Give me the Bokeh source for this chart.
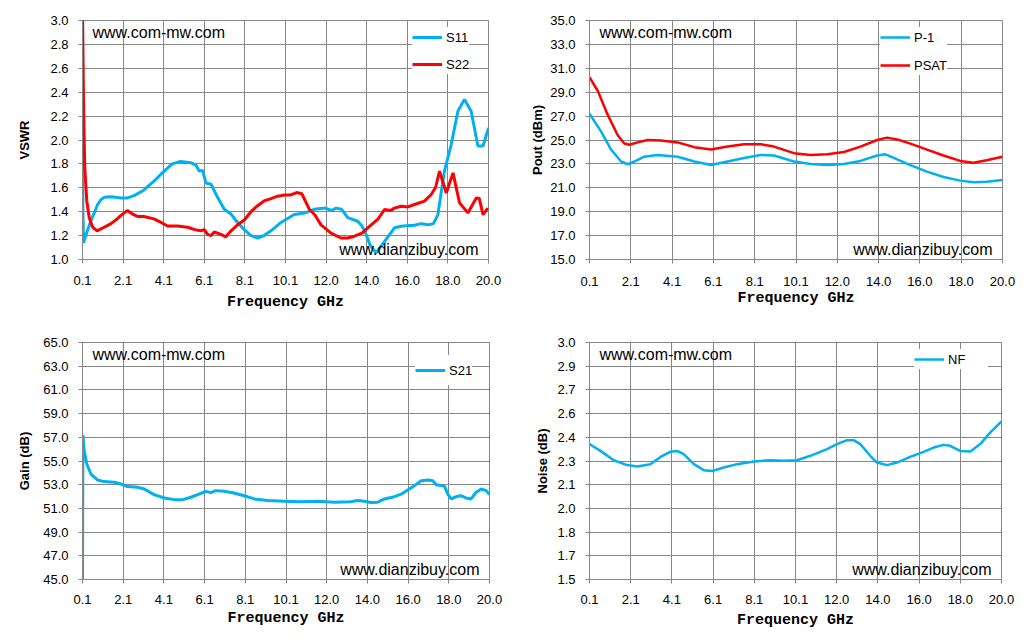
from bokeh.plotting import figure
from bokeh.models import Range1d, FixedTicker, Label, Legend, LegendItem
from bokeh.layouts import column, row
from bokeh.embed import file_html
from bokeh.resources import INLINE

# ---------------- data ----------------
x_ticks = [0.1, 2.09, 4.08, 6.07, 8.06, 10.05, 12.04, 14.03, 16.02, 18.01, 20.0]
x_labels = ["0.1", "2.1", "4.1", "6.1", "8.1", "10.1", "12.0", "14.0", "16.0", "18.0", "20.0"]

vswr_ticks = [1.0, 1.2, 1.4, 1.6, 1.8, 2.0, 2.2, 2.4, 2.6, 2.8, 3.0]
pout_ticks = [15, 17, 19, 21, 23, 25, 27, 29, 31, 33, 35]
gain_ticks = [45, 47, 49, 51, 53, 55, 57, 59, 61, 63, 65]
noise_ticks = [1.5, 1.65, 1.8, 1.95, 2.1, 2.25, 2.4, 2.55, 2.7, 2.85, 3.0]
noise_labels = ["1.5", "1.7", "1.8", "2.0", "2.1", "2.3", "2.4", "2.6", "2.7", "2.9", "3.0"]

s11_f = [0.1, 0.12, 0.15, 0.3, 0.5, 0.7, 0.84, 1.0, 1.16, 1.5,
         1.98, 2.3, 2.63, 3.1, 3.6, 4.1, 4.5, 4.9, 5.4, 5.66,
         5.82, 5.99, 6.15, 6.4, 6.72, 7.05, 7.38, 7.7, 8.03, 8.36,
         8.68, 9.0, 9.34, 9.83, 10.48, 11.0, 11.46, 12.0, 12.3, 12.53,
         12.8, 13.1, 13.59, 13.8, 14.0, 14.2, 14.49, 14.9, 15.39, 15.8,
         16.37, 16.7, 17.03, 17.3, 17.52, 17.84, 18.17, 18.5, 18.82, 19.15,
         19.48, 19.73, 20.0]
s11_v = [2.10, 1.40, 1.14, 1.22, 1.32, 1.40, 1.46, 1.50, 1.52, 1.525,
         1.515, 1.515, 1.535, 1.58, 1.655, 1.74, 1.80, 1.82, 1.81, 1.79,
         1.74, 1.745, 1.64, 1.63, 1.52, 1.42, 1.38, 1.31, 1.25, 1.20,
         1.18, 1.20, 1.24, 1.31, 1.376, 1.39, 1.42, 1.43, 1.41, 1.43,
         1.42, 1.35, 1.32, 1.28, 1.21, 1.12, 1.055, 1.15, 1.265, 1.28,
         1.287, 1.30, 1.29, 1.30, 1.376, 1.74, 1.96, 2.24, 2.34, 2.24,
         1.95, 1.95, 2.10]

s22_f = [0.1, 0.15, 0.21, 0.31, 0.43, 0.6, 0.82, 1.16, 1.5, 1.8,
         2.06, 2.3, 2.55, 2.8, 3.1, 3.6, 3.95, 4.27, 4.76, 5.25,
         5.6, 5.9, 6.07, 6.23, 6.4, 6.56, 6.88, 7.13, 7.38, 7.7,
         8.03, 8.36, 8.68, 9.0, 9.34, 9.67, 10.0, 10.3, 10.6, 10.85,
         11.22, 11.5, 11.79, 12.28, 12.77, 13.1, 13.43, 13.8, 14.08, 14.57,
         14.9, 15.2, 15.39, 15.72, 16.05, 16.37, 16.86, 17.19, 17.4, 17.6,
         17.93, 18.26, 18.58, 18.99, 19.4, 19.55, 19.73, 19.97]
s22_v = [3.1, 2.32, 1.77, 1.49, 1.35, 1.27, 1.24, 1.27, 1.30, 1.34,
         1.38, 1.41, 1.38, 1.36, 1.36, 1.34, 1.31, 1.28, 1.28, 1.27,
         1.25, 1.24, 1.25, 1.21, 1.20, 1.23, 1.21, 1.19, 1.24, 1.29,
         1.33, 1.40, 1.45, 1.49, 1.51, 1.53, 1.54, 1.54, 1.56, 1.55,
         1.42, 1.37, 1.29, 1.22, 1.18, 1.18, 1.195, 1.22, 1.265, 1.335,
         1.418, 1.41, 1.43, 1.445, 1.44, 1.46, 1.488, 1.544, 1.6, 1.74,
         1.557, 1.725, 1.474, 1.39, 1.515, 1.51, 1.376, 1.43]

p1_f = [0.1, 0.66, 1.14, 1.62, 1.94, 2.26, 2.74, 3.38, 4.35, 5.15,
        5.95, 6.75, 7.55, 8.35, 8.99, 9.95, 10.75, 11.56, 12.36, 13.16,
        13.96, 14.36, 14.76, 15.56, 16.36, 17.16, 17.96, 18.6, 19.24, 20.0]
p1_v = [27.2, 25.7, 24.2, 23.2, 22.97, 23.2, 23.6, 23.75, 23.6, 23.2,
        22.9, 23.2, 23.5, 23.75, 23.7, 23.2, 23.0, 22.9, 23.0, 23.25,
        23.7, 23.8, 23.5, 22.9, 22.35, 21.9, 21.6, 21.46, 21.5, 21.66]

psat_f = [0.1, 0.5, 0.98, 1.46, 1.78, 2.02, 2.42, 2.9, 3.54, 4.35,
          5.15, 5.95, 6.75, 7.55, 8.35, 8.99, 9.95, 10.75, 11.56, 12.36,
          13.16, 13.96, 14.44, 14.92, 15.56, 16.36, 17.16, 17.96, 18.6, 19.24,
          20.0]
psat_v = [30.25, 29.1, 27.1, 25.4, 24.7, 24.6, 24.8, 25.0, 24.96, 24.8,
          24.4, 24.2, 24.45, 24.65, 24.65, 24.45, 23.9, 23.75, 23.8, 24.0,
          24.45, 25.0, 25.2, 25.05, 24.7, 24.2, 23.7, 23.25, 23.1, 23.3,
          23.6]

s21_f = [0.1, 0.12, 0.18, 0.31, 0.51, 0.83, 1.16, 1.65, 1.98, 2.3,
         2.79, 3.12, 3.6, 4.1, 4.59, 5.0, 5.4, 5.89, 6.13, 6.38,
         6.62, 7.03, 7.5, 8.0, 8.5, 9.15, 9.97, 10.78, 11.6, 12.4,
         13.2, 13.56, 13.88, 14.2, 14.53, 14.86, 15.35, 15.68, 16.0, 16.33,
         16.66, 16.98, 17.23, 17.4, 17.64, 17.8, 17.96, 18.12, 18.37, 18.6,
         18.85, 19.1, 19.35, 19.6, 19.84, 20.0]
s21_v = [45.0, 57.2, 55.9, 54.75, 53.9, 53.4, 53.26, 53.2, 53.06, 52.84,
         52.78, 52.64, 52.16, 51.88, 51.74, 51.74, 51.94, 52.27, 52.44, 52.33,
         52.5, 52.44, 52.3, 52.07, 51.8, 51.66, 51.6, 51.57, 51.6, 51.52,
         51.57, 51.66, 51.6, 51.49, 51.52, 51.8, 51.99, 52.2, 52.55, 52.92,
         53.34, 53.4, 53.34, 53.0, 52.92, 52.87, 52.2, 51.8, 51.99, 52.07,
         51.88, 51.8, 52.36, 52.64, 52.5, 52.16]

nf_f = [0.1, 0.63, 1.27, 1.92, 2.4, 3.04, 3.53, 4.0, 4.33, 4.65,
        5.14, 5.62, 6.02, 6.58, 7.23, 8.03, 8.84, 9.48, 10.12, 10.77,
        11.57, 12.05, 12.54, 12.86, 13.18, 13.66, 13.98, 14.47, 14.95, 15.59,
        16.24, 16.72, 17.2, 17.52, 18.0, 18.5, 18.97, 19.45, 20.0]
nf_v = [2.357, 2.314, 2.255, 2.224, 2.215, 2.23, 2.276, 2.308, 2.314, 2.293,
        2.23, 2.192, 2.186, 2.209, 2.23, 2.247, 2.255, 2.251, 2.255, 2.283,
        2.325, 2.357, 2.382, 2.382, 2.357, 2.283, 2.24, 2.224, 2.24, 2.276,
        2.308, 2.335, 2.352, 2.346, 2.314, 2.31, 2.357, 2.43, 2.5]

BLUE = "#00B0F0"
RED = "#FF0000"
GRID = "#868686"
SANS = "Liberation Sans"
MONO = "Liberation Mono, DejaVu Sans Mono, monospace"


def make_fig(w, h, bl, br, bt, bb, yr, yticks, ylabel, ylab_standoff,
             xlab_standoff, xtick_standoff, ylabel_overrides=None):
    p = figure(width=w, height=h, min_border_left=bl,
               min_border_right=br, min_border_top=bt, min_border_bottom=bb,
               x_range=Range1d(0.1, 20.0), y_range=Range1d(*yr),
               output_backend="svg", toolbar_location=None,
               border_fill_color="white")
    p.background_fill_color = None
    p.outline_line_color = GRID
    p.outline_line_width = 1
    p.xaxis.ticker = FixedTicker(ticks=x_ticks)
    p.xaxis.major_label_overrides = {t: l for t, l in zip(x_ticks, x_labels)}
    p.yaxis.ticker = FixedTicker(ticks=yticks)
    if ylabel_overrides:
        p.yaxis.major_label_overrides = {t: l for t, l in zip(yticks, ylabel_overrides)}
    else:
        p.yaxis.major_label_overrides = {t: f"{t:.1f}" for t in yticks}
    for ax in (p.xaxis, p.yaxis):
        ax.axis_line_color = GRID
        ax.major_tick_line_color = GRID
        ax.major_tick_in = 0
        ax.major_tick_out = 4
        ax.minor_tick_line_color = None
        ax.major_label_text_font = SANS
        ax.major_label_text_font_size = "13px"
        ax.major_label_text_color = "black"
    p.xaxis.major_label_standoff = xtick_standoff
    p.yaxis.major_label_standoff = 10
    p.xaxis.axis_label = "Frequency GHz"
    p.xaxis.axis_label_text_font = MONO
    p.xaxis.axis_label_text_font_style = "bold"
    p.xaxis.axis_label_text_font_size = "15px"
    p.xaxis.axis_label_text_color = "black"
    p.xaxis.axis_label_standoff = xlab_standoff
    p.yaxis.axis_label = ylabel
    p.yaxis.axis_label_text_font = SANS
    p.yaxis.axis_label_text_font_style = "bold"
    p.yaxis.axis_label_text_font_size = "13px"
    p.yaxis.axis_label_text_color = "black"
    p.yaxis.axis_label_standoff = ylab_standoff
    p.grid.grid_line_color = GRID
    p.grid.grid_line_width = 1
    p.grid.grid_line_alpha = 1.0
    # watermarks
    p.add_layout(Label(x=0.1, y=yr[1], x_offset=10, y_offset=-12,
                       text="www.com-mw.com", text_font=SANS,
                       text_font_size="16px", text_color="black",
                       text_baseline="middle", text_align="left"))
    p.add_layout(Label(x=20.0, y=yr[0], x_offset=-10, y_offset=10,
                       text="www.dianzibuy.com", text_font=SANS,
                       text_font_size="16px", text_color="black",
                       text_baseline="middle", text_align="right"))
    return p


def add_legend(p, items, loc, padding, spacing, lh=20, lw=20):
    leg = Legend(items=items, location=loc, padding=padding, spacing=spacing,
                 margin=0, glyph_width=30, glyph_height=lh, label_height=lh,
                 label_width=lw, label_standoff=4,
                 label_text_font=SANS, label_text_font_size="13px",
                 label_text_color="black", border_line_color=None,
                 background_fill_color="white", background_fill_alpha=1.0)
    p.add_layout(leg)


# ---- VSWR ----  frame 406 x 239
p1 = make_fig(505, 324, 82, 17, 20, 65, (1.0, 3.0), vswr_ticks, "VSWR", 15,
              xlab_standoff=6, xtick_standoff=12)
r1 = p1.line(s11_f, s11_v, line_color=BLUE, line_width=3)
r2 = p1.line(s22_f, s22_v, line_color=RED, line_width=3)
add_legend(p1, [LegendItem(label="S11", renderers=[r1]),
                LegendItem(label="S22", renderers=[r2])], (330, 185), 7, 7)

# ---- Pout ----  frame 413 x 239
p2 = make_fig(518, 324, 84, 21, 20, 65, (15.0, 35.0), pout_ticks, "Pout (dBm)", 2,
              xlab_standoff=1, xtick_standoff=13)
r3 = p2.line(p1_f, p1_v, line_color=BLUE, line_width=2.5)
r4 = p2.line(psat_f, psat_v, line_color=RED, line_width=2.5)
add_legend(p2, [LegendItem(label="P-1", renderers=[r3]),
                LegendItem(label="PSAT", renderers=[r4])], (291, 184), 5, 8)

# ---- Gain ----  frame 407 x 237
p3 = make_fig(505, 317, 82, 16, 18, 62, (45.0, 65.0), gain_ticks, "Gain (dB)", 8,
              xlab_standoff=3, xtick_standoff=11)
r5 = p3.line(s21_f, s21_v, line_color=BLUE, line_width=3)
add_legend(p3, [LegendItem(label="S21", renderers=[r5])], (333, 194), 8, 0, lh=30)

# ---- Noise ----  frame 412 x 237
p4 = make_fig(518, 317, 84, 22, 18, 62, (1.5, 3.0), noise_ticks, "Noise (dB)", 4,
              xlab_standoff=5, xtick_standoff=11, ylabel_overrides=noise_labels)
r6 = p4.line(nf_f, nf_v, line_color=BLUE, line_width=2.5)
add_legend(p4, [LegendItem(label="NF", renderers=[r6])], (325, 210), 5, 0, lw=40)

layout = column(row(p1, p2), row(p3, p4))

open("out.html", "w").write(file_html(layout, INLINE))
